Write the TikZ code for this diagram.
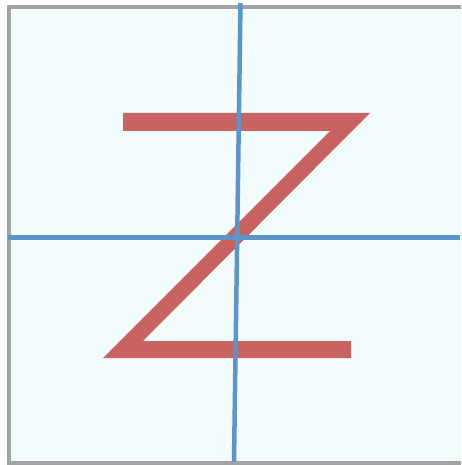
\documentclass[tikz,border=0pt]{standalone}
\usepackage{tikz}

\definecolor{paneFill}{HTML}{F3FCFD}
\definecolor{paneEdge}{HTML}{A3A3A3}
\definecolor{zRed}{HTML}{C96362}
\definecolor{axisBlue}{HTML}{5B96CB}

\begin{document}
\begin{tikzpicture}[
  x=1pt, y=-1pt,
  pane/.style={fill=paneFill},
  frame/.style={draw=paneEdge,line width=3.5pt},
  letter/.style={fill=zRed},
  axis/.style={draw=axisBlue,line width=4.5pt}
]
\useasboundingbox (0,0) rectangle (461,465);
% background panel, its right edge runs off the picture
\fill[pane] (9,7) rectangle (461,463);
\draw[frame] (461,7) -- (9,7) -- (9,463) -- (461,463);
% the letter Z
\fill[letter] (123,113) -- (370,113) -- (143,341) -- (351,341)
  -- (351,358) -- (103,358) -- (330,131) -- (123,131) -- cycle;
% axes
\coordinate (top) at (240.5,3);
\coordinate (bottom) at (234,462);
\coordinate (left) at (8,237.5);
\coordinate (right) at (460,237.5);
\draw[axis] (left) -- (right);
\draw[axis] (top) -- (bottom);
\end{tikzpicture}
\end{document}
